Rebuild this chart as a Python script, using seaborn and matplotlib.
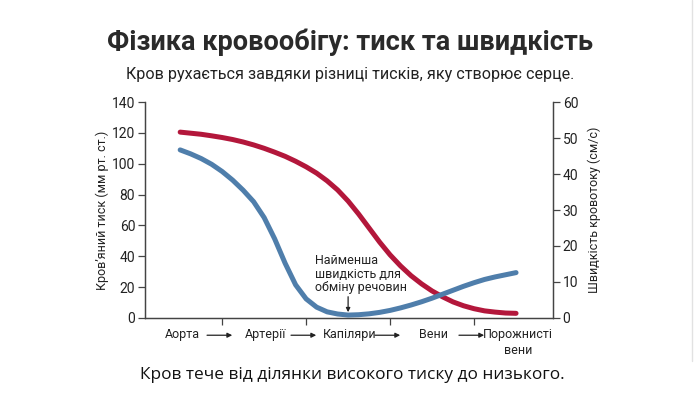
import matplotlib
matplotlib.use("Agg")
import matplotlib.pyplot as plt
import pandas as pd
import seaborn as sns

# stages of the circulation, left to right
stages = ["Аорта", "Артерії", "Капіляри", "Вени", "Порожнисті\nвени"]

# position along the vessel chain (0 = aorta ... 4 = venae cavae)
position = [0, 0.125, 0.25, 0.375, 0.5, 0.625, 0.75, 0.875,
            1.0, 1.125, 1.25, 1.375, 1.5, 1.625, 1.75, 1.875,
            2.0, 2.125, 2.25, 2.375, 2.5, 2.625, 2.75, 2.875,
            3.0, 3.125, 3.25, 3.375, 3.5, 3.625, 3.75, 3.875, 4.0]

# blood pressure, mm Hg (left axis)
pressure = [120.5, 119.8, 119.1, 118.1, 117.0, 115.7, 114.1, 112.2,
            110.0, 107.5, 104.8, 101.6, 98.0, 93.9, 88.9, 83.0,
            75.8, 67.4, 58.3, 49.2, 40.9, 33.7, 27.4, 22.1,
            17.5, 13.7, 10.4, 7.9, 6.0, 4.6, 3.8, 3.2, 3.0]

# flow velocity, cm/s (right axis)
velocity = [46.7, 45.6, 44.3, 42.7, 40.7, 38.3, 35.5, 32.3,
            27.9, 22.0, 15.2, 9.2, 5.3, 3.0, 1.7, 1.1,
            0.8, 0.9, 1.15, 1.55, 2.1, 2.8, 3.6, 4.5,
            5.5, 6.6, 7.7, 8.8, 9.8, 10.7, 11.4, 12.0, 12.6]

df = pd.DataFrame({"pos": position, "pressure": pressure, "velocity": velocity})

RED = "#b3173b"
BLUE = "#4f7eab"
INK = "#222222"

sns.set_theme(style="white")
plt.rcParams["font.family"] = ["Roboto", "DejaVu Sans"]

fig = plt.figure(figsize=(7, 3.94), dpi=100)
fig.patch.set_facecolor("white")
ax1 = fig.add_axes([0.207, 0.193, 0.583, 0.548])
ax2 = ax1.twinx()

sns.lineplot(data=df, x="pos", y="pressure", ax=ax1, color=RED, lw=3.6,
             solid_capstyle="round", solid_joinstyle="round")
sns.lineplot(data=df, x="pos", y="velocity", ax=ax2, color=BLUE, lw=3.6,
             solid_capstyle="round", solid_joinstyle="round")

ax1.set_xlim(-0.42, 4.44)
ax1.set_ylim(0, 140)
ax2.set_ylim(0, 60)
ax1.set_yticks(range(0, 141, 20))
ax2.set_yticks(range(0, 61, 10))
ax1.set_xticks([0.5, 1.5, 2.5, 3.5])
ax1.set_xticklabels([])

for ax in (ax1, ax2):
    ax.spines["top"].set_visible(False)
    for s in ax.spines.values():
        s.set_color("#444444")
        s.set_linewidth(0.9)
    ax.tick_params(axis="both", colors="#444444", labelcolor=INK,
                   labelsize=10, length=5, width=0.9, direction="out", pad=2)
ax1.tick_params(axis="x", bottom=True, length=5)
ax2.tick_params(axis="y", right=True)

ax1.set_xlabel("")
ax1.set_ylabel("Кров’яний тиск (мм рт. ст.)", fontsize=9, color=INK, labelpad=2)
ax2.set_ylabel("Швидкість кровотоку (см/с)", fontsize=9, color=INK, labelpad=7)

# stage labels with arrows between them
for i, name in enumerate(stages):
    ax1.text(i + 0.02, -0.045, name, transform=ax1.get_xaxis_transform(),
             ha="center", va="top", fontsize=9, color=INK, linespacing=1.3)
for i in range(len(stages) - 1):
    ax1.annotate("", xy=(i + 0.62, -0.08), xytext=(i + 0.32, -0.08),
                 xycoords=ax1.get_xaxis_transform(),
                 arrowprops=dict(arrowstyle="-|>", color=INK, lw=0.9,
                                 mutation_scale=7, shrinkA=0, shrinkB=0))

# note at the velocity minimum
ax2.text(1.61, 6.6, "Найменша\nшвидкість для\nобміну речовин", ha="left",
         va="bottom", fontsize=9, color=INK, linespacing=1.05)
ax2.annotate("", xy=(2.0, 1.6), xytext=(2.0, 5.9),
             arrowprops=dict(arrowstyle="-|>", color=INK, lw=0.9,
                             mutation_scale=6, shrinkA=0, shrinkB=0))

fig.text(0.5, 0.893, "Фізика кровообігу: тиск та швидкість", ha="center",
         va="center", fontsize=19.5, fontweight="bold", color="#2a2a2a")
fig.text(0.5, 0.81, "Кров рухається завдяки різниці тисків, яку створює серце.",
         ha="center", va="center", fontsize=11.6, color=INK)
fig.text(0.504, 0.048, "Кров тече від ділянки високого тиску до низького.",
         ha="center", va="center", fontsize=12.4, color="#111111",
         family=["Open Sans", "DejaVu Sans"])

# faint frame line on the right edge
fig.add_artist(plt.Line2D([0.989, 0.989], [0.085, 1.0], color="#e2e2e2", lw=1.0,
                          transform=fig.transFigure))

fig.savefig("out.png", dpi=100, facecolor="white")
